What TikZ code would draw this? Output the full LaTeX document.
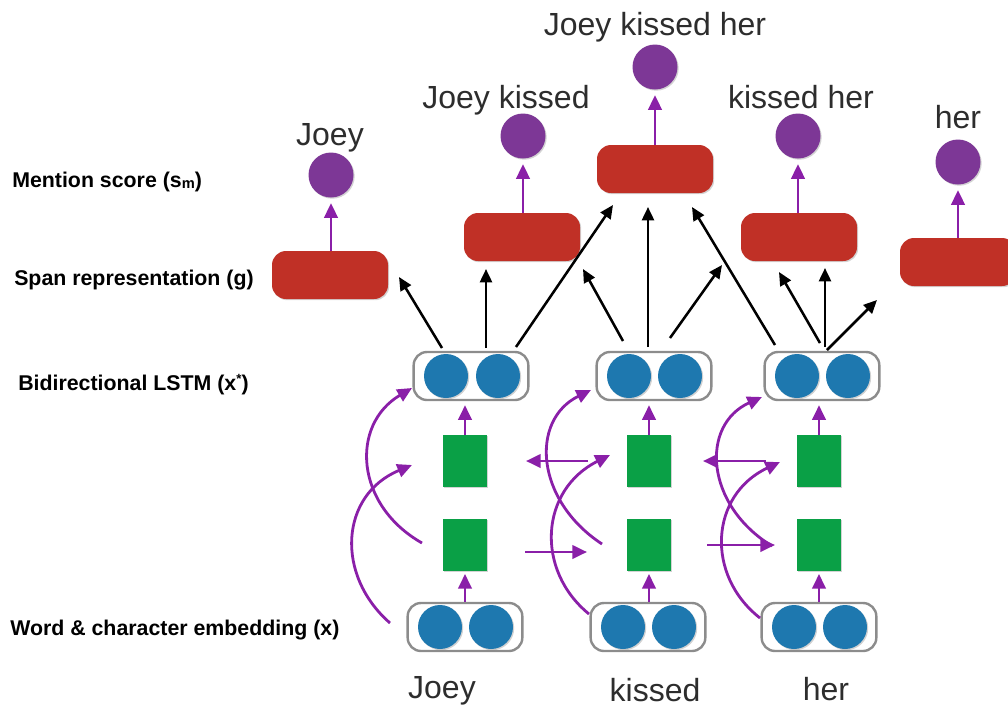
\documentclass[tikz,border=0pt]{standalone}
\usepackage{fontspec}
\setmainfont{Liberation Sans}
\usetikzlibrary{arrows.meta,shadows}
\definecolor{spanred}{RGB}{192,48,38}
\definecolor{scorepurple}{RGB}{125,55,150}
\definecolor{arrowpurple}{RGB}{138,31,168}
\definecolor{lstmblue}{RGB}{30,120,175}
\definecolor{cellgreen}{RGB}{10,160,70}
\definecolor{boxgray}{RGB}{140,140,140}
\definecolor{textgray}{RGB}{45,45,45}
\begin{document}
\begin{tikzpicture}[x=0.75pt,y=-0.75pt,
  shad/.style={drop shadow={shadow xshift=0.9pt,shadow yshift=-0.9pt,opacity=0.35}},
  pairbox/.style={draw=boxgray,line width=1.8pt,fill=white,rounded corners=10pt,minimum width=86pt,minimum height=36pt,inner sep=0pt},
  unit/.style={circle,fill=lstmblue,minimum size=33pt,inner sep=0pt,shad},
  cell/.style={rectangle,fill=cellgreen,minimum width=33pt,minimum height=39pt,inner sep=0pt,shad},
  spanbox/.style={rectangle,rounded corners=10.5pt,fill=spanred,minimum width=87pt,minimum height=36pt,inner sep=0pt,shad},
  score/.style={circle,fill=scorepurple,minimum size=33.75pt,inner sep=0pt,shad},
  parr/.style={draw=arrowpurple,line width=2.1pt,-{Triangle[length=11pt,width=10pt]}},
  barr/.style={draw=black,line width=1.9pt,-{Triangle[length=10pt,width=9pt]}},
  word/.style={font=\fontsize{24}{28}\selectfont,text=textgray,anchor=base,inner sep=0pt},
  layer/.style={font=\bfseries\fontsize{16}{19}\selectfont,anchor=base west,inner sep=0pt}]
\useasboundingbox (0,0) rectangle (1008,708);
\clip (0,0) rectangle (1008,708);

% layer labels
\node[layer] (lm) at (12,187) {Mention score (s\raisebox{-1pt}{\fontsize{11}{12}\selectfont m})};
\node[layer] (lg) at (14,285) {Span representation (g)};
\node[layer] (lx) at (18,390) {Bidirectional LSTM (x\raisebox{5pt}{\fontsize{10}{11}\selectfont *})};
\node[layer] (le) at (10,635) {Word \& character embedding (x)};

% embeddings
\node[pairbox] (eJ) at (465,627) {};
\node[unit] (eJa) at (440,627) {}; \node[unit] (eJb) at (491,627) {};
\node[pairbox] (eK) at (648,627) {};
\node[unit] (eKa) at (623,627) {}; \node[unit] (eKb) at (674,627) {};
\node[pairbox] (eH) at (819,627) {};
\node[unit] (eHa) at (794,627) {}; \node[unit] (eHb) at (845,627) {};

% LSTM cells
\node[cell] (fJ) at (465,545) {}; \node[cell] (bJ) at (465,461) {};
\node[cell] (fK) at (649,545) {}; \node[cell] (bK) at (649,461) {};
\node[cell] (fH) at (819,545) {}; \node[cell] (bH) at (819,461) {};

% LSTM outputs
\node[pairbox] (hJ) at (471,376) {};
\node[unit] (hJa) at (446,376) {}; \node[unit] (hJb) at (498,376) {};
\node[pairbox] (hK) at (654,376) {};
\node[unit] (hKa) at (629,376) {}; \node[unit] (hKb) at (680,376) {};
\node[pairbox] (hH) at (822,376) {};
\node[unit] (hHa) at (797,376) {}; \node[unit] (hHb) at (848,376) {};

% spans
\node[spanbox] (sJ) at (330,275) {};
\node[spanbox] (sJK) at (522,237) {};
\node[spanbox] (sJKH) at (655,169) {};
\node[spanbox] (sKH) at (799,237) {};
\node[spanbox] (sH) at (958,262) {};

% scores
\node[score] (mJ) at (331,175) {};
\node[score] (mJK) at (523,136) {};
\node[score] (mJKH) at (655,67) {};
\node[score] (mKH) at (798,136) {};
\node[score] (mH) at (958,162) {};

% words
\node[word] (tJKH) at (655,35) {Joey kissed her};
\node[word] (tJK) at (506,108) {Joey kissed};
\node[word] (tKH) at (801,108) {kissed her};
\node[word] (tH) at (958,128) {her};
\node[word] (tJ) at (330,145) {Joey};
\node[word] (wJ) at (442,698) {Joey};
\node[word] (wK) at (655,701) {kissed};
\node[word] (wH) at (826,700) {her};

% vertical purple arrows
\foreach \c in {J,K,H}{
  \draw[parr,shorten >=2pt] (f\c.south |- e\c.north) -- (f\c.south);
  \draw[parr,shorten >=3pt] (b\c.north) -- (b\c.north |- h\c.south);
}
\foreach \s/\m in {sJ/mJ,sJK/mJK,sJKH/mJKH,sKH/mKH,sH/mH}{
  \draw[parr,shorten >=4pt] (\s.north -| \m) -- (\m.south);
}

% curved purple arrows
\coordinate (cA1) at (422,543); \coordinate (cA2) at (412,388);
\coordinate (cB1) at (390,623); \coordinate (cB2) at (412,465);
\coordinate (cC1) at (602,544); \coordinate (cC2) at (591,390);
\coordinate (cD1) at (589,614); \coordinate (cD2) at (610,455);
\coordinate (cE1) at (772,546); \coordinate (cE2) at (762,397);
\coordinate (cF1) at (760,618); \coordinate (cF2) at (780,462);
\draw[parr] (cA1) .. controls (355,505) and (350,425) .. (cA2);
\draw[parr] (cB1) .. controls (335,575) and (340,495) .. (cB2);
\draw[parr] (cC1) .. controls (535,500) and (530,420) .. (cC2);
\draw[parr] (cD1) .. controls (535,570) and (540,490) .. (cD2);
\draw[parr] (cE1) .. controls (705,505) and (700,425) .. (cE2);
\draw[parr] (cF1) .. controls (705,575) and (710,495) .. (cF2);

% horizontal purple arrows
\coordinate (hA1) at (588,461); \coordinate (hA2) at (526,461);
\coordinate (hB1) at (525,552); \coordinate (hB2) at (587,552);
\coordinate (hC1) at (766,461); \coordinate (hC2) at (703,461);
\coordinate (hD1) at (707,545); \coordinate (hD2) at (775,545);
\draw[parr] (hA1) -- (hA2);
\draw[parr] (hB1) -- (hB2);
\draw[parr] (hC1) -- (hC2);
\draw[parr] (hD1) -- (hD2);

% black arrows
\coordinate (k1s) at (442,348); \coordinate (k1e) at (399,277);
\coordinate (k2s) at (486,348); \coordinate (k2e) at (486,269);
\coordinate (k3s) at (516,347); \coordinate (k3e) at (613,205);
\coordinate (k4s) at (623,341); \coordinate (k4e) at (583,269);
\coordinate (k5s) at (648,347); \coordinate (k5e) at (648,207);
\coordinate (k6s) at (670,338); \coordinate (k6e) at (722,265);
\coordinate (k7s) at (775,345); \coordinate (k7e) at (692,207);
\coordinate (k8s) at (820,343); \coordinate (k8e) at (779,272);
\coordinate (k9s) at (825,347); \coordinate (k9e) at (825,268);
\coordinate (k10s) at (827,350); \coordinate (k10e) at (877,300);
\foreach \i in {1,...,10}{\draw[barr] (k\i s) -- (k\i e);}
\end{tikzpicture}
\end{document}
